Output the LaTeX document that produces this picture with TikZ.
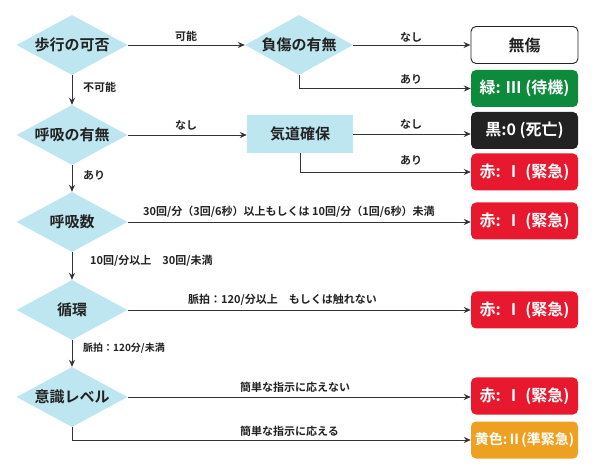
\documentclass[tikz,border=0pt]{standalone}
\usepackage{fontspec}
\setmainfont{Noto Sans CJK JP}[BoldFont={Noto Sans CJK JP Bold}]
\usetikzlibrary{shapes.geometric,arrows.meta}
\definecolor{dia}{HTML}{BDE6F0}
\definecolor{grn}{HTML}{0E8A3C}
\definecolor{blk}{HTML}{222222}
\definecolor{rd}{HTML}{E8192F}
\definecolor{yl}{HTML}{EEA020}
\definecolor{ln}{HTML}{333333}
\newcommand{\zb}[1]{\makebox[0pt]{#1}}
\begin{document}
\begin{tikzpicture}[x=1pt,y=-1pt,
  dec/.style={diamond,fill=dia,inner sep=0pt,minimum width=111pt,minimum height=60pt,font=\fontsize{15}{15}\selectfont\bfseries,text=blk},
  res/.style={rounded corners=5pt,minimum width=107pt,minimum height=37pt,inner sep=0pt,font=\fontsize{16}{16}\selectfont\bfseries,text=white},
  act/.style={fill=dia,minimum width=106pt,minimum height=38pt,inner sep=0pt,font=\fontsize{15}{15}\selectfont\bfseries,text=blk},
  arr/.style={draw=ln,line width=0.9pt,-{Stealth[length=7pt,width=6pt]}},
  lab/.style={font=\fontsize{11}{11}\selectfont\bfseries,text=blk,inner sep=0pt}
]
\useasboundingbox (0,0) rectangle (600,470);
% decisions
\node[dec] (d1) at (72,45) {\zb{歩行の可否}};
\node[dec,minimum width=108pt] (d2) at (299,45) {\zb{負傷の有無}};
\node[dec] (d3) at (72,135) {\zb{呼吸の有無}};
\node[dec] (d4) at (72,222) {\zb{呼吸数}};
\node[dec] (d5) at (72,310) {\zb{循環}};
\node[dec] (d6) at (72,397) {\zb{意識レベル}};
\node[act] (kd) at (300,134) {\zb{気道確保}};
% results
\node[res,draw=blk,line width=0.9pt,fill=white,text=blk] (b1) at (524.5,45) {\zb{無傷}};
\node[res,fill=grn] (b2) at (524.5,88.5) {\zb{緑: Ⅲ (待機)}};
\node[res,fill=blk] (b3) at (524.5,130.5) {\zb{黒:0 (死亡)}};
\node[res,fill=rd] (b4) at (524.5,172) {\zb{赤: Ⅰ (緊急)}};
\node[res,fill=rd] (b5) at (524.5,221) {\zb{赤: Ⅰ (緊急)}};
\node[res,fill=rd] (b6) at (524.5,310) {\zb{赤: Ⅰ (緊急)}};
\node[res,fill=rd] (b7) at (524.5,396) {\zb{赤: Ⅰ (緊急)}};
\node[res,fill=yl,font=\fontsize{14}{14}\selectfont\bfseries] (b8) at (524.5,440) {\zb{黄色:Ⅱ(準緊急)}};
% connectors
\draw[arr] (d1.east) -- (d2.west);
\draw[arr] (d2.east) -- (b1.west);
\draw[arr] (d2.south) |- (b2.west);
\draw[arr] (d1.south) -- (d3.north);
\draw[arr] (d3.east) -- (d3.east -| kd.west);
\draw[arr] (kd.east) -- (kd.east -| b3.west);
\draw[arr] (kd.south) |- (b4.west);
\draw[arr] (d3.south) -- (d4.north);
\draw[arr] (d4.east) -- (d4.east -| b5.west);
\draw[arr] (d4.south) -- (d5.north);
\draw[arr] (d5.east) -- (b6.west);
\draw[arr] (d5.south) -- (d6.north);
\draw[arr] (d6.east) -- (d6.east -| b7.west);
\draw[arr] (d6.south) |- (b8.west);
% labels
\node[lab] (l1) at (186,36) {可能};
\node[lab] (l2) at (411,37) {なし};
\node[lab] (l3) at (411,79) {あり};
\node[lab,anchor=west] (l4) at (83,87) {不可能};
\node[lab] (l5) at (186,125) {なし};
\node[lab] (l6) at (411,124) {なし};
\node[lab] (l7) at (411,160) {あり};
\node[lab,anchor=west] (l8) at (83,175) {あり};
\node[lab,anchor=west] (l9) at (143,212) {30回/分（3回/6秒）以上もしくは 10回/分（1回/6秒）未満};
\node[lab,anchor=west] (l10) at (90,261) {10回/分以上　30回/未満};
\node[lab,anchor=west] (l11) at (188,300) {脈拍：120/分以上　もしくは触れない};
\node[lab,anchor=west,font=\fontsize{10}{10}\selectfont\bfseries] (l12) at (83,348) {脈拍：120分/未満};
\node[lab,anchor=west] (l13) at (240,387) {簡単な指示に応えない};
\node[lab,anchor=west] (l14) at (240,431) {簡単な指示に応える};
\end{tikzpicture}
\end{document}
